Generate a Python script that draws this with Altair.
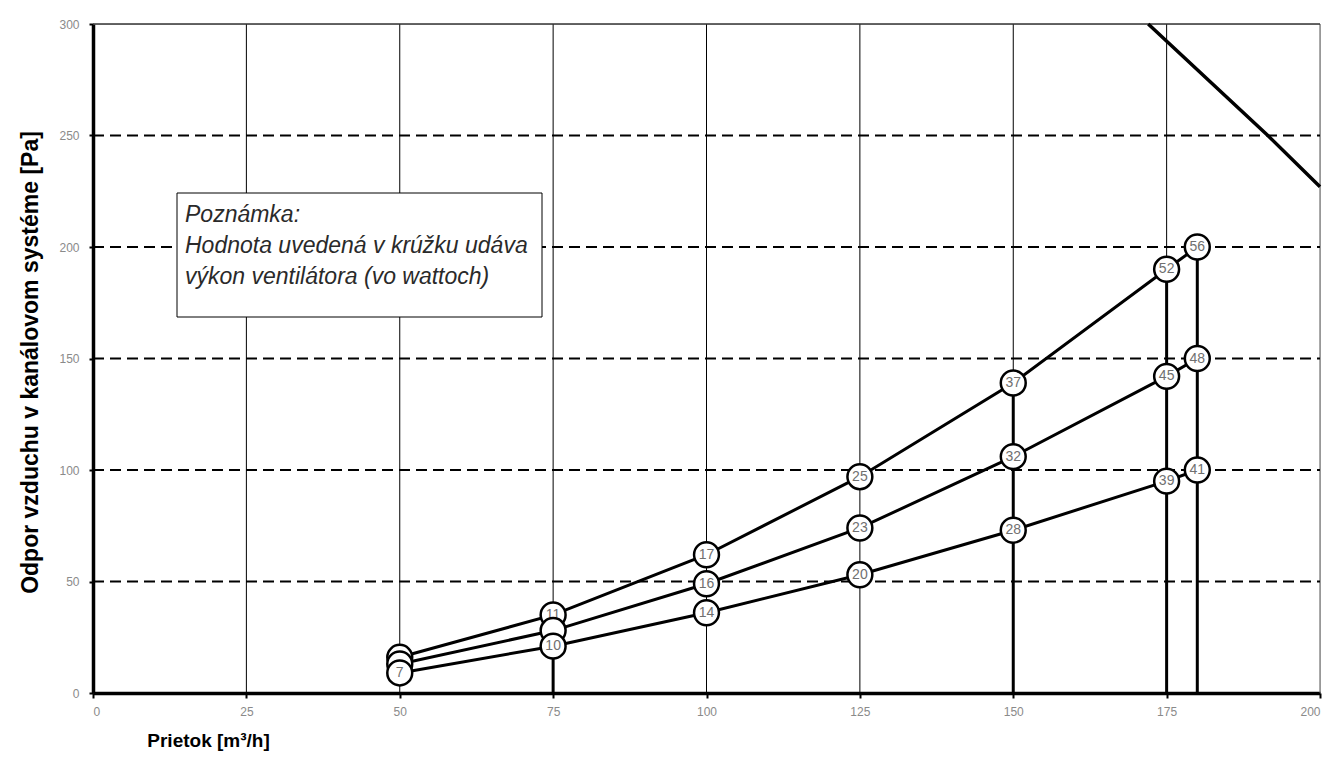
import altair as alt
import pandas as pd

# ---- data ----
flow = [50, 75, 100, 125, 150, 175, 180]
series_names = ["high", "mid", "low"]
pressure_high = [16, 35, 62, 97, 139, 190, 200]
pressure_mid = [13, 28, 49, 74, 106, 142, 150]
pressure_low = [9, 21, 36, 53, 73, 95, 100]
power_high = ["", "11", "17", "25", "37", "52", "56"]
power_mid = ["", "", "16", "23", "32", "45", "48"]
power_low = ["7", "10", "14", "20", "28", "39", "41"]

fan_flow = [172, 191.5, 200]
fan_pressure = [300, 250, 227]

drop_flow = [75, 150, 175, 180]
drop_top = [21, 139, 190, 200]

x_ticks = [0, 25, 50, 75, 100, 125, 150, 175, 200]
y_ticks = [0, 50, 100, 150, 200, 250, 300]
v_grid = [25, 50, 75, 100, 125, 150, 175]
h_dashed = [50, 100, 150, 200, 250]

note_lines = ["Poznámka:", "Hodnota uvedená v krúžku udáva", "výkon ventilátora (vo wattoch)"]

x_title = "Prietok [m³/h]"
y_title = "Odpor vzduchu v kanálovom systéme  [Pa]"

W, H = 1227, 669
NARROW = "'Liberation Sans Narrow', 'Arial Narrow', 'Liberation Sans', Arial, sans-serif"
SANS = "'Liberation Sans', Arial, sans-serif"

xs = alt.Scale(domain=[0, 200], nice=False, zero=False)
ys = alt.Scale(domain=[0, 300], nice=False, zero=False)

x_axis = alt.Axis(values=x_ticks, grid=False, domainColor="black", domainWidth=3.5,
                  tickColor="black", tickWidth=2, tickSize=5, labelColor="#8a8a8a",
                  labelFont=NARROW, labelFontSize=12, labelPadding=8,
                  title=x_title, titleFont=SANS, titleFontSize=19, titleFontWeight="bold",
                  titleColor="black", titleX=115, titleY=47, titleAlign="center",
                  titleBaseline="middle", titleAnchor="start")
y_axis = alt.Axis(values=y_ticks, grid=False, domainColor="black", domainWidth=3.5,
                  tickColor="black", tickWidth=2, tickSize=4, labelColor="#8a8a8a",
                  labelFont=NARROW, labelFontSize=12, labelPadding=10,
                  title=y_title, titleFont=SANS, titleFontSize=23, titleFontWeight="bold",
                  titleColor="black", titleX=-63, titleY=338, titleAngle=-90,
                  titleAlign="center", titleBaseline="middle")

vg = alt.Chart(pd.DataFrame({"x": v_grid})).mark_rule(color="black", strokeWidth=1).encode(
    x=alt.X("x:Q", scale=xs, axis=x_axis), y=alt.value(0), y2=alt.value(H))
right_border = alt.Chart(pd.DataFrame({"x": [200]})).mark_rule(color="#555", strokeWidth=1).encode(
    x=alt.X("x:Q", scale=xs), y=alt.value(0), y2=alt.value(H))
hg = alt.Chart(pd.DataFrame({"y": h_dashed})).mark_rule(color="black", strokeWidth=2, strokeDash=[11, 6]).encode(
    y=alt.Y("y:Q", scale=ys, axis=y_axis), x=alt.value(0), x2=alt.value(W))
top_border = alt.Chart(pd.DataFrame({"y": [300]})).mark_rule(color="#333", strokeWidth=1.5).encode(
    y=alt.Y("y:Q", scale=ys), x=alt.value(0), x2=alt.value(W))

drops = alt.Chart(pd.DataFrame({"x": drop_flow, "y": drop_top, "y0": [0] * len(drop_flow)})).mark_rule(
    color="black", strokeWidth=3).encode(x=alt.X("x:Q", scale=xs), y=alt.Y("y:Q", scale=ys), y2="y0:Q")

fan = alt.Chart(pd.DataFrame({"x": fan_flow, "y": fan_pressure})).mark_line(
    color="black", strokeWidth=3.5).encode(x=alt.X("x:Q", scale=xs), y=alt.Y("y:Q", scale=ys))

rows = []
for name, ps, lb in zip(series_names, [pressure_high, pressure_mid, pressure_low],
                        [power_high, power_mid, power_low]):
    for i, (f, p, l) in enumerate(zip(flow, ps, lb)):
        rows.append({"series": name, "x": f, "y": p, "label": l, "i": i})
df = pd.DataFrame(rows)

lines = alt.Chart(df).mark_line(color="black", strokeWidth=3).encode(
    x=alt.X("x:Q", scale=xs), y=alt.Y("y:Q", scale=ys), detail="series:N", order="i:Q")

point_layers = []
for name in series_names:
    sub = df[df["series"] == name]
    base = alt.Chart(sub).encode(x=alt.X("x:Q", scale=xs), y=alt.Y("y:Q", scale=ys))
    point_layers.append(base.mark_point(shape="circle", size=620, filled=True, fill="white",
                                        stroke="black", strokeWidth=2.5, opacity=1))
    point_layers.append(base.mark_text(font=NARROW, fontSize=14, color="#707070").encode(text="label:N"))

one = pd.DataFrame({"a": [0]})
note_box = alt.Chart(one).mark_rect(fill="white", stroke="black", strokeWidth=1).encode(
    x=alt.value(84), x2=alt.value(449), y=alt.value(169), y2=alt.value(293))
note_texts = []
for k, t in enumerate(note_lines):
    note_texts.append(alt.Chart(one).mark_text(align="left", baseline="middle", font=SANS,
                                               fontSize=23, fontStyle="italic", color="#2a2a2a",
                                               text=t).encode(x=alt.value(92), y=alt.value(191 + 31 * k)))

chart = alt.layer(vg, right_border, hg, top_border, drops, fan, lines, *point_layers,
                  note_box, *note_texts).properties(
    width=W, height=H,
    autosize=alt.AutoSizeParams(type="none"),
    padding={"left": 85, "top": 16, "right": 7, "bottom": 60},
).configure_view(stroke=None).configure(background="white")

chart.save("out.html", embed_options={"renderer": "svg", "actions": False})
